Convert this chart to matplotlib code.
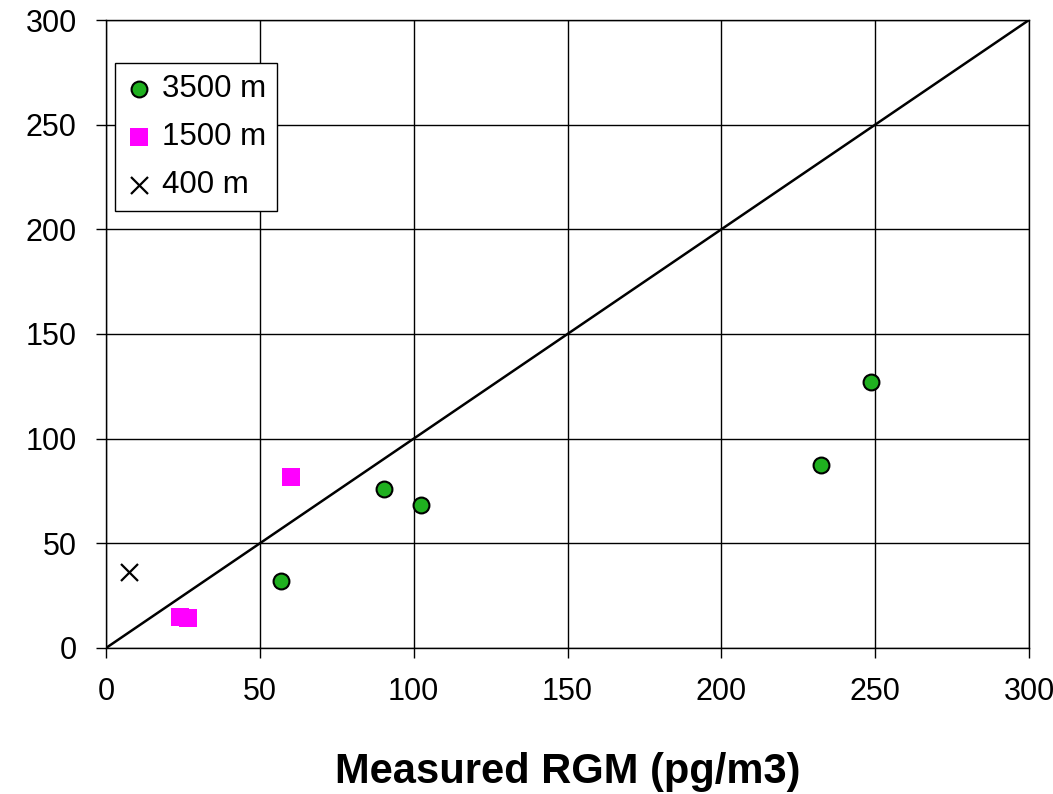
import numpy as np
import matplotlib
matplotlib.use('Agg')
import matplotlib.pyplot as plt

# Data
x_3500 = [57, 90.5, 102.5, 232.5, 248.5]
y_3500 = [32, 76, 68.5, 87.5, 127]
x_1500 = [60, 24, 26.5]
y_1500 = [81.5, 15, 14.5]
x_400 = [7.5]
y_400 = [36.5]
ticks = [0, 50, 100, 150, 200, 250, 300]

plt.rcParams['font.family'] = ['Liberation Sans', 'DejaVu Sans']

fig = plt.figure(figsize=(10.53, 7.94), dpi=100)
ax = fig.add_axes([0.1007, 0.1839, 0.8765, 0.7909])

ax.set_xlim(0, 300)
ax.set_ylim(0, 300)
ax.set_xticks(ticks)
ax.set_yticks(ticks)
ax.grid(True, color='black', linewidth=1.0)
ax.set_axisbelow(True)

# 1:1 line
ax.plot([0, 300], [0, 300], color='black', linewidth=1.8, zorder=2)

ax.scatter(x_3500, y_3500, s=130, c='#1fb01f', edgecolors='black', linewidths=1.5,
           label='3500 m', zorder=3)
ax.scatter(x_1500, y_1500, s=150, c='#ff00ff', marker='s', linewidths=0,
           label='1500 m', zorder=3)
ax.scatter(x_400, y_400, s=150, c='black', marker='x', linewidths=1.6,
           label='400 m', zorder=3)

for sp in ax.spines.values():
    sp.set_color('black')
    sp.set_linewidth(1.0)

ax.tick_params(direction='out', length=7, width=1, labelsize=22)
ax.tick_params(axis='x', pad=14)
ax.tick_params(axis='y', pad=14)

ax.set_xlabel('Measured RGM (pg/m3)', fontsize=30, fontweight='bold', labelpad=32)

leg = ax.legend(loc='upper left', bbox_to_anchor=(0.01, 0.9315), fontsize=22.5,
                frameon=True, fancybox=False, edgecolor='black', framealpha=1,
                handletextpad=0.35, borderpad=0.35, labelspacing=0.58,
                handlelength=0.8, borderaxespad=0)
leg.get_frame().set_linewidth(1.0)

fig.savefig('out.png', dpi=100)
